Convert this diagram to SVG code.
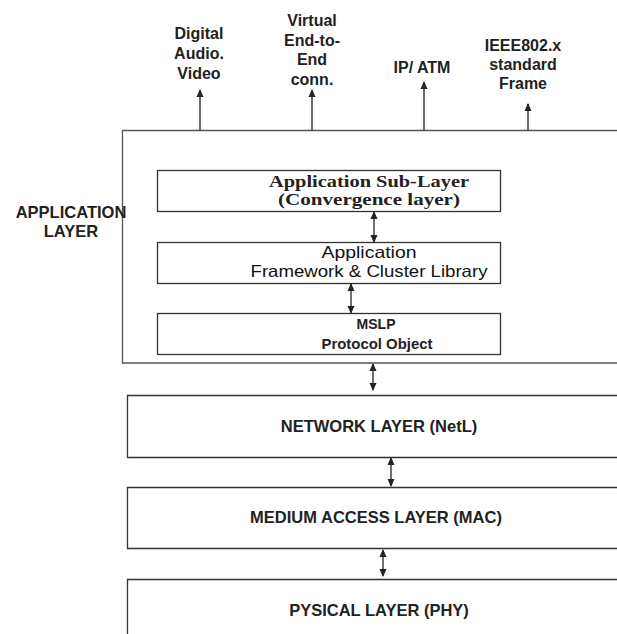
<svg xmlns="http://www.w3.org/2000/svg" width="617" height="634" viewBox="0 0 617 634">
<style>
.box{fill:#fff;stroke:#333;stroke-width:1.3}
.outer{fill:#fff;stroke:#555;stroke-width:1.3}
.lbl{font-family:"Liberation Sans",Arial,sans-serif;font-size:16px;font-weight:bold;fill:#222;text-anchor:middle}
.lay{font-family:"Liberation Sans",Arial,sans-serif;font-size:16.5px;font-weight:bold;fill:#222;text-anchor:middle}
.ser{font-family:"Liberation Serif","Times New Roman",serif;font-size:17px;font-weight:bold;fill:#222;text-anchor:middle}
.reg{font-family:"Liberation Sans",Arial,sans-serif;font-size:16.5px;fill:#111;text-anchor:middle}
.sm{font-family:"Liberation Sans",Arial,sans-serif;font-size:15px;font-weight:bold;fill:#222;text-anchor:middle}
.con{stroke:#222;stroke-width:1.3;fill:none}
</style>
<defs>
<marker id="ah" viewBox="0 0 8 8" refX="7" refY="4" markerWidth="8" markerHeight="8" markerUnits="userSpaceOnUse" orient="auto-start-reverse">
<path d="M0,0.5 L8,4 L0,7.5 Z" fill="#222"/>
</marker>
</defs>
<g id="application-layer">
<path class="outer" d="M617,130.5 H122.5 V363 H617"/>
<text class="lay" x="71" y="218">APPLICATION</text>
<text class="lay" x="71" y="237">LAYER</text>
</g>
<g id="app-sublayer">
<rect class="box" x="157.5" y="170.5" width="343" height="41"/>
<text class="ser" x="369" y="187" textLength="200" lengthAdjust="spacingAndGlyphs">Application Sub-Layer</text>
<text class="ser" x="369" y="205" textLength="182" lengthAdjust="spacingAndGlyphs">(Convergence layer)</text>
</g>
<g id="app-framework">
<rect class="box" x="157.5" y="242.5" width="343" height="41"/>
<text class="reg" x="369" y="258" textLength="95" lengthAdjust="spacingAndGlyphs">Application</text>
<text class="reg" x="369" y="277" textLength="237" lengthAdjust="spacingAndGlyphs">Framework &amp; Cluster Library</text>
</g>
<g id="mslp">
<rect class="box" x="157.5" y="313.5" width="343" height="41"/>
<text class="sm" x="376" y="329" textLength="39" lengthAdjust="spacingAndGlyphs">MSLP</text>
<text class="sm" x="377" y="349" textLength="111" lengthAdjust="spacingAndGlyphs">Protocol Object</text>
</g>
<g id="network-layer">
<path class="box" d="M617,395.5 H127.5 V457.5 H617"/>
<text class="lay" x="379" y="432">NETWORK LAYER (NetL)</text>
</g>
<g id="mac-layer">
<path class="box" d="M617,487.5 H127.5 V548.5 H617"/>
<text class="lay" x="376" y="523">MEDIUM ACCESS LAYER (MAC)</text>
</g>
<g id="phy-layer">
<path class="box" d="M617,579.5 H127.5 V634"/>
<text class="lay" x="379" y="616">PYSICAL LAYER (PHY)</text>
</g>
<g id="outputs">
<text class="lbl" x="199" y="39">Digital</text>
<text class="lbl" x="199" y="59">Audio.</text>
<text class="lbl" x="199" y="79">Video</text>
<text class="lbl" x="312" y="26">Virtual</text>
<text class="lbl" x="312" y="46">End-to-</text>
<text class="lbl" x="312" y="65">End</text>
<text class="lbl" x="312" y="85">conn.</text>
<text class="lbl" x="422" y="73">IP/ ATM</text>
<text class="lbl" x="523" y="51">IEEE802.x</text>
<text class="lbl" x="523" y="70">standard</text>
<text class="lbl" x="523" y="89">Frame</text>
</g>
<g id="connectors">
<line class="con" x1="200" y1="130" x2="200" y2="90" marker-end="url(#ah)"/>
<line class="con" x1="312" y1="130" x2="312" y2="90" marker-end="url(#ah)"/>
<line class="con" x1="424" y1="130" x2="424" y2="82" marker-end="url(#ah)"/>
<line class="con" x1="528" y1="130" x2="528" y2="104" marker-end="url(#ah)"/>
<line class="con" x1="374" y1="212" x2="374" y2="242" marker-start="url(#ah)" marker-end="url(#ah)"/>
<line class="con" x1="351" y1="284" x2="351" y2="313" marker-start="url(#ah)" marker-end="url(#ah)"/>
<line class="con" x1="373" y1="364" x2="373" y2="390" marker-start="url(#ah)" marker-end="url(#ah)"/>
<line class="con" x1="391" y1="458" x2="391" y2="486" marker-start="url(#ah)" marker-end="url(#ah)"/>
<line class="con" x1="383" y1="550" x2="383" y2="576" marker-start="url(#ah)" marker-end="url(#ah)"/>
</g>
</svg>
